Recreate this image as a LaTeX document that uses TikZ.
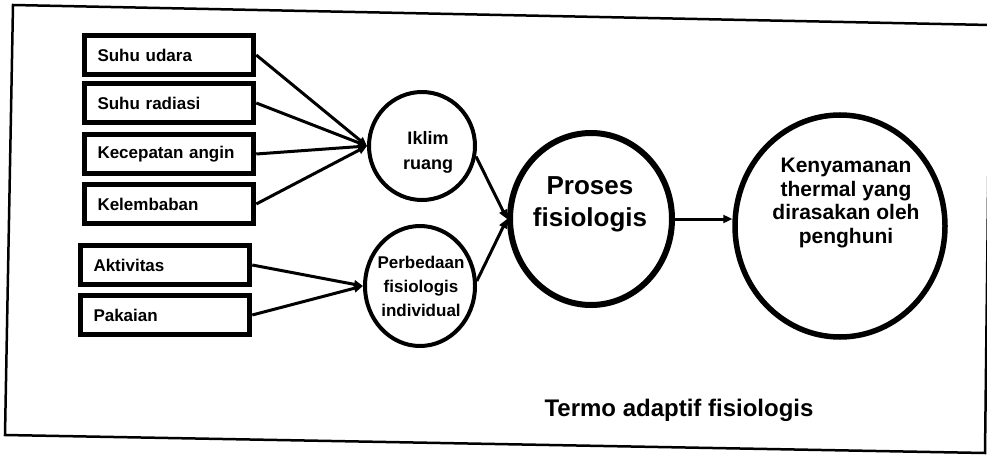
\documentclass[tikz,border=0pt]{standalone}
\usepackage{fontspec}
\setmainfont{Liberation Sans}
\usetikzlibrary{shapes.geometric,arrows.meta}

\begin{document}
\begin{tikzpicture}[x=1pt,y=-1pt,
  factor/.style={draw, rectangle, line width=5.5pt, minimum height=39pt,
    text width=143pt, inner xsep=13pt, inner ysep=0pt, align=left,
    font=\fontsize{17}{20}\selectfont\bfseries},
  bubble/.style={draw, ellipse, inner sep=0pt},
  bubbletext/.style={align=center, inner sep=0pt},
  link/.style={line width=3pt, -{Triangle[length=9pt,width=8pt]}},
  frame/.style={line width=2.5pt, line join=miter}
]
\useasboundingbox (0,0) rectangle (987,457);

% outer frame
\draw[frame] (13,5) -- (990,25) -- (985,453) -- (5,435) -- cycle;

% input factors
\node[factor] (su) at (169,55)  {Suhu udara};
\node[factor] (sr) at (169,103) {Suhu radiasi};
\node[factor] (ka) at (169,154) {Kecepatan angin};
\node[factor] (ke) at (169,204) {Kelembaban};
\node[factor] (ak) at (165,265) {Aktivitas};
\node[factor] (pk) at (165,315) {Pakaian};

% intermediate and result circles
\node[bubble, line width=4pt, minimum width=106pt, minimum height=108pt] (ik) at (422,146) {};
\node[bubble, line width=4pt, minimum width=110pt, minimum height=120pt] (pb) at (420,286) {};
\node[bubble, line width=6pt, minimum width=162pt, minimum height=172pt] (pr) at (591,219) {};
\node[bubble, line width=5.5pt, minimum width=210pt, minimum height=222pt] (ky) at (840,226) {};

\node[bubbletext, font=\fontsize{18}{25}\selectfont\bfseries] (ikt) at (428,152) {Iklim\\ruang};
\node[bubbletext, font=\fontsize{17}{24}\selectfont\bfseries] (pbt) at (421,286) {Perbedaan\\fisiologis\\individual};
\node[bubbletext, font=\fontsize{26}{32}\selectfont\bfseries] (prt) at (590,204) {Proses\\fisiologis};
\node[bubbletext, font=\fontsize{21}{23.5}\selectfont\bfseries] (kyt) at (846,203) {Kenyamanan\\thermal yang\\dirasakan oleh\\penghuni};

% caption
\node[font=\fontsize{24}{28}\selectfont\bfseries, inner sep=0pt] (cap) at (679,410) {Termo adaptif fisiologis};

% connectors
\draw[link] (su.east) -- (ik.west);
\draw[link] (sr.east) -- (ik.west);
\draw[link] (ka.east) -- (ik.west);
\draw[link] (ke.east) -- (ik.west);
\draw[link] (ak.east) -- (pb.west);
\draw[link] (pk.east) -- (pb.west);
\draw[link] (ik.-11) -- (pr.west);
\draw[link] (pb.5) -- (pr.west);
\draw[link] (pr.east) -- (pr.east -| ky.west);
\end{tikzpicture}
\end{document}
